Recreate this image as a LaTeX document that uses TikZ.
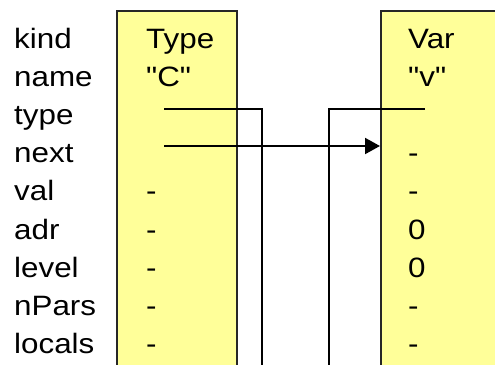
\documentclass[tikz,border=0pt]{standalone}
\usepackage{fontspec}
\setmainfont{Liberation Sans}[Ligatures=TeXOff, FakeStretch=1.12]
\usetikzlibrary{arrows.meta}
\definecolor{objfill}{HTML}{FFFF99}

\begin{document}
\begin{tikzpicture}[x=1pt, y=-1pt,
    field/.style={anchor=base west, inner sep=0pt, font=\fontsize{28}{33}\selectfont},
    objbox/.style={draw=black!85, fill=objfill, line width=2pt, anchor=north west,
                   minimum height=380pt, inner sep=0pt},
    link/.style={line width=2pt},
    arr/.style={link, -{Triangle[length=15pt, width=16pt]}},
]
    \clip (0,0) rectangle (495,364);

    % -- objects --
    \node[objbox, minimum width=120pt] (typeobj) at (116,10) {};
    \node[objbox, minimum width=130pt] (varobj)  at (380,10) {};

    % -- field names --
    \foreach \lbl [count=\i from 0] in {kind,name,type,next,val,adr,level,nPars,locals}
        \node[field] (fld-\i) at (14, 48+38.2*\i) {\lbl};

    % -- Type object --
    \foreach \val [count=\i from 0] in {Type,"C",,,-,-,-,-,-}
        \node[field] (tv-\i) at (146, 48+38.2*\i) {\val};

    % -- Var object --
    \foreach \val [count=\i from 0] in {Var,"v",,-,-,0,0,-,-}
        \node[field] (vv-\i) at (408, 48+38.2*\i) {\val};

    % -- pointers --
    \coordinate (ttype) at (164,109);
    \coordinate (tnext) at (164,146);
    \coordinate (vtype) at (425,109);
    \coordinate (tdown) at (262,370);
    \coordinate (vdown) at (329,370);

    \draw[link] (ttype) -| (tdown);
    \draw[link] (vtype) -| (vdown);
    \draw[arr] (tnext) -- (tnext -| varobj.west);
\end{tikzpicture}
\end{document}
